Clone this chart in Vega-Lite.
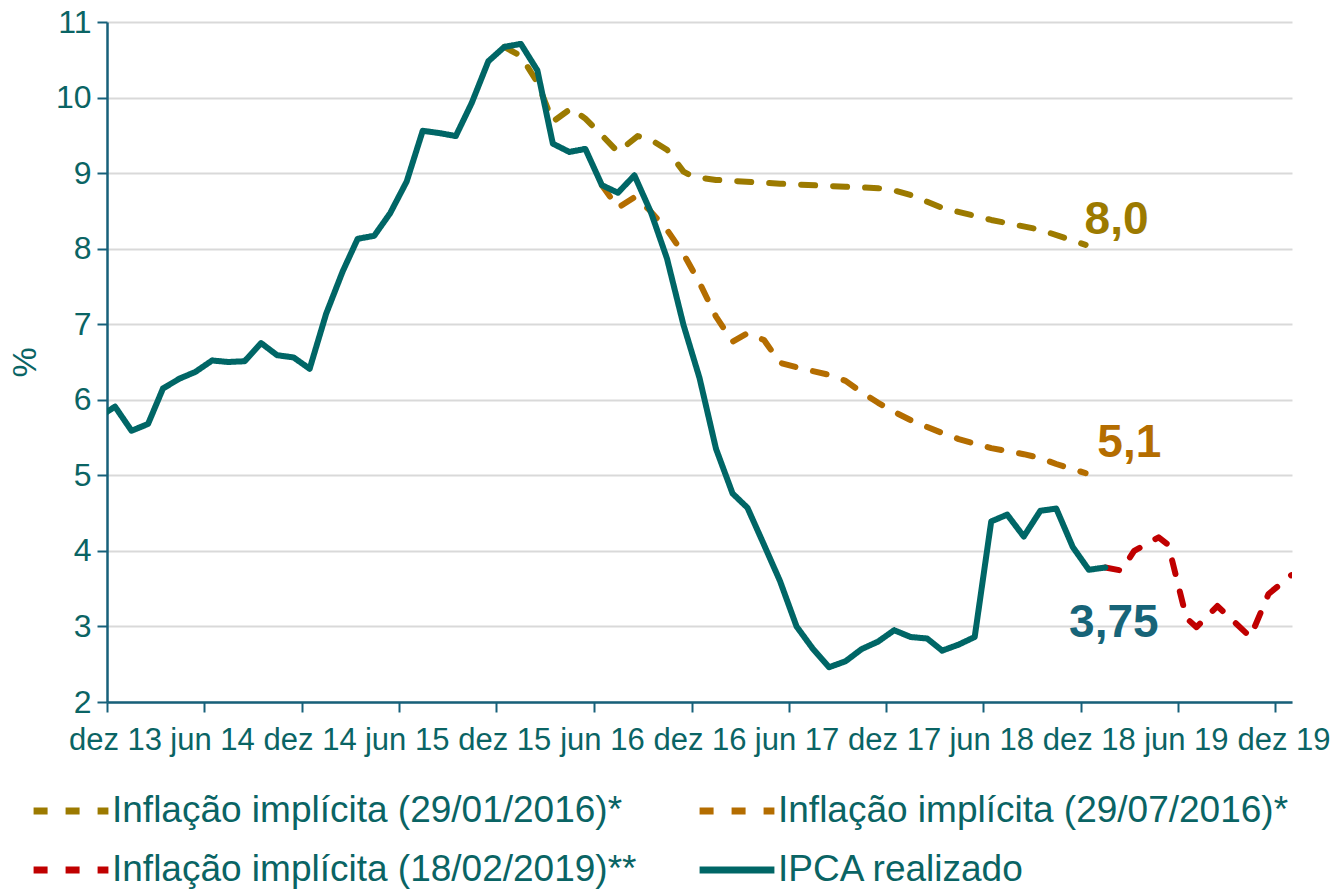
{
  "$schema": "https://vega.github.io/schema/vega-lite/v6.json",
  "width": 1185,
  "height": 680,
  "autosize": {"type": "none"},
  "padding": {"left": 107, "top": 22, "right": 40, "bottom": 188},
  "background": "white",
  "config": {
    "view": {"stroke": null},
    "font": "Liberation Sans",
    "legend": {
      "orient": "none",
      "legendX": -77,
      "legendY": 748,
      "columns": 2,
      "padding": 0,
      "symbolType": "stroke",
      "symbolSize": 5600,
      "symbolStrokeWidth": 7,
      "labelFontSize": 37,
      "labelFont": "Liberation Sans",
      "labelColor": "#0A6464",
      "labelLimit": 2000,
      "labelOffset": 0,
      "columnPadding": 48,
      "rowPadding": -23
    }
  },
  "datasets": {
    "ipca": [
      {"date": "2013-11-16", "value": 5.77, "serie": "IPCA realizado"},
      {"date": "2013-12-16", "value": 5.91, "serie": "IPCA realizado"},
      {"date": "2014-01-16", "value": 5.59, "serie": "IPCA realizado"},
      {"date": "2014-02-16", "value": 5.68, "serie": "IPCA realizado"},
      {"date": "2014-03-16", "value": 6.15, "serie": "IPCA realizado"},
      {"date": "2014-04-16", "value": 6.28, "serie": "IPCA realizado"},
      {"date": "2014-05-16", "value": 6.37, "serie": "IPCA realizado"},
      {"date": "2014-06-16", "value": 6.52, "serie": "IPCA realizado"},
      {"date": "2014-07-16", "value": 6.50, "serie": "IPCA realizado"},
      {"date": "2014-08-16", "value": 6.51, "serie": "IPCA realizado"},
      {"date": "2014-09-16", "value": 6.75, "serie": "IPCA realizado"},
      {"date": "2014-10-16", "value": 6.59, "serie": "IPCA realizado"},
      {"date": "2014-11-16", "value": 6.56, "serie": "IPCA realizado"},
      {"date": "2014-12-16", "value": 6.41, "serie": "IPCA realizado"},
      {"date": "2015-01-16", "value": 7.14, "serie": "IPCA realizado"},
      {"date": "2015-02-16", "value": 7.70, "serie": "IPCA realizado"},
      {"date": "2015-03-16", "value": 8.13, "serie": "IPCA realizado"},
      {"date": "2015-04-16", "value": 8.17, "serie": "IPCA realizado"},
      {"date": "2015-05-16", "value": 8.47, "serie": "IPCA realizado"},
      {"date": "2015-06-16", "value": 8.89, "serie": "IPCA realizado"},
      {"date": "2015-07-16", "value": 9.56, "serie": "IPCA realizado"},
      {"date": "2015-08-16", "value": 9.53, "serie": "IPCA realizado"},
      {"date": "2015-09-16", "value": 9.49, "serie": "IPCA realizado"},
      {"date": "2015-10-16", "value": 9.93, "serie": "IPCA realizado"},
      {"date": "2015-11-16", "value": 10.48, "serie": "IPCA realizado"},
      {"date": "2015-12-16", "value": 10.67, "serie": "IPCA realizado"},
      {"date": "2016-01-16", "value": 10.71, "serie": "IPCA realizado"},
      {"date": "2016-02-16", "value": 10.36, "serie": "IPCA realizado"},
      {"date": "2016-03-16", "value": 9.39, "serie": "IPCA realizado"},
      {"date": "2016-04-16", "value": 9.28, "serie": "IPCA realizado"},
      {"date": "2016-05-16", "value": 9.32, "serie": "IPCA realizado"},
      {"date": "2016-06-16", "value": 8.84, "serie": "IPCA realizado"},
      {"date": "2016-07-16", "value": 8.74, "serie": "IPCA realizado"},
      {"date": "2016-08-16", "value": 8.97, "serie": "IPCA realizado"},
      {"date": "2016-09-16", "value": 8.48, "serie": "IPCA realizado"},
      {"date": "2016-10-16", "value": 7.87, "serie": "IPCA realizado"},
      {"date": "2016-11-16", "value": 6.99, "serie": "IPCA realizado"},
      {"date": "2016-12-16", "value": 6.29, "serie": "IPCA realizado"},
      {"date": "2017-01-16", "value": 5.35, "serie": "IPCA realizado"},
      {"date": "2017-02-16", "value": 4.76, "serie": "IPCA realizado"},
      {"date": "2017-03-16", "value": 4.57, "serie": "IPCA realizado"},
      {"date": "2017-04-16", "value": 4.08, "serie": "IPCA realizado"},
      {"date": "2017-05-16", "value": 3.60, "serie": "IPCA realizado"},
      {"date": "2017-06-16", "value": 3.00, "serie": "IPCA realizado"},
      {"date": "2017-07-16", "value": 2.71, "serie": "IPCA realizado"},
      {"date": "2017-08-16", "value": 2.46, "serie": "IPCA realizado"},
      {"date": "2017-09-16", "value": 2.54, "serie": "IPCA realizado"},
      {"date": "2017-10-16", "value": 2.70, "serie": "IPCA realizado"},
      {"date": "2017-11-16", "value": 2.80, "serie": "IPCA realizado"},
      {"date": "2017-12-16", "value": 2.95, "serie": "IPCA realizado"},
      {"date": "2018-01-16", "value": 2.86, "serie": "IPCA realizado"},
      {"date": "2018-02-16", "value": 2.84, "serie": "IPCA realizado"},
      {"date": "2018-03-16", "value": 2.68, "serie": "IPCA realizado"},
      {"date": "2018-04-16", "value": 2.76, "serie": "IPCA realizado"},
      {"date": "2018-05-16", "value": 2.86, "serie": "IPCA realizado"},
      {"date": "2018-06-16", "value": 4.39, "serie": "IPCA realizado"},
      {"date": "2018-07-16", "value": 4.48, "serie": "IPCA realizado"},
      {"date": "2018-08-16", "value": 4.19, "serie": "IPCA realizado"},
      {"date": "2018-09-16", "value": 4.53, "serie": "IPCA realizado"},
      {"date": "2018-10-16", "value": 4.56, "serie": "IPCA realizado"},
      {"date": "2018-11-16", "value": 4.05, "serie": "IPCA realizado"},
      {"date": "2018-12-16", "value": 3.75, "serie": "IPCA realizado"},
      {"date": "2019-01-16", "value": 3.78, "serie": "IPCA realizado"}
    ],
    "proj": [
      {"date": "2015-12-16", "value": 10.67, "serie": "Inflação implícita (29/01/2016)*"},
      {"date": "2016-01-16", "value": 10.55, "serie": "Inflação implícita (29/01/2016)*"},
      {"date": "2016-02-16", "value": 10.2, "serie": "Inflação implícita (29/01/2016)*"},
      {"date": "2016-03-16", "value": 9.68, "serie": "Inflação implícita (29/01/2016)*"},
      {"date": "2016-04-20", "value": 9.86, "serie": "Inflação implícita (29/01/2016)*"},
      {"date": "2016-05-16", "value": 9.72, "serie": "Inflação implícita (29/01/2016)*"},
      {"date": "2016-06-16", "value": 9.5, "serie": "Inflação implícita (29/01/2016)*"},
      {"date": "2016-07-16", "value": 9.28, "serie": "Inflação implícita (29/01/2016)*"},
      {"date": "2016-08-22", "value": 9.49, "serie": "Inflação implícita (29/01/2016)*"},
      {"date": "2016-09-16", "value": 9.44, "serie": "Inflação implícita (29/01/2016)*"},
      {"date": "2016-10-16", "value": 9.31, "serie": "Inflação implícita (29/01/2016)*"},
      {"date": "2016-11-16", "value": 9.02, "serie": "Inflação implícita (29/01/2016)*"},
      {"date": "2016-12-05", "value": 8.95, "serie": "Inflação implícita (29/01/2016)*"},
      {"date": "2017-01-16", "value": 8.91, "serie": "Inflação implícita (29/01/2016)*"},
      {"date": "2017-05-16", "value": 8.86, "serie": "Inflação implícita (29/01/2016)*"},
      {"date": "2017-09-16", "value": 8.82, "serie": "Inflação implícita (29/01/2016)*"},
      {"date": "2017-11-16", "value": 8.80, "serie": "Inflação implícita (29/01/2016)*"},
      {"date": "2017-12-16", "value": 8.77, "serie": "Inflação implícita (29/01/2016)*"},
      {"date": "2018-01-16", "value": 8.71, "serie": "Inflação implícita (29/01/2016)*"},
      {"date": "2018-02-16", "value": 8.62, "serie": "Inflação implícita (29/01/2016)*"},
      {"date": "2018-03-16", "value": 8.54, "serie": "Inflação implícita (29/01/2016)*"},
      {"date": "2018-06-16", "value": 8.38, "serie": "Inflação implícita (29/01/2016)*"},
      {"date": "2018-09-16", "value": 8.25, "serie": "Inflação implícita (29/01/2016)*"},
      {"date": "2018-12-10", "value": 8.05, "serie": "Inflação implícita (29/01/2016)*"},
      {"date": "2016-06-16", "value": 8.84, "serie": "Inflação implícita (29/07/2016)*"},
      {"date": "2016-07-16", "value": 8.54, "serie": "Inflação implícita (29/07/2016)*"},
      {"date": "2016-08-16", "value": 8.68, "serie": "Inflação implícita (29/07/2016)*"},
      {"date": "2016-09-12", "value": 8.52, "serie": "Inflação implícita (29/07/2016)*"},
      {"date": "2016-10-16", "value": 8.25, "serie": "Inflação implícita (29/07/2016)*"},
      {"date": "2016-11-16", "value": 7.93, "serie": "Inflação implícita (29/07/2016)*"},
      {"date": "2016-12-16", "value": 7.55, "serie": "Inflação implícita (29/07/2016)*"},
      {"date": "2017-01-16", "value": 7.1, "serie": "Inflação implícita (29/07/2016)*"},
      {"date": "2017-02-16", "value": 6.77, "serie": "Inflação implícita (29/07/2016)*"},
      {"date": "2017-03-16", "value": 6.88, "serie": "Inflação implícita (29/07/2016)*"},
      {"date": "2017-04-16", "value": 6.79, "serie": "Inflação implícita (29/07/2016)*"},
      {"date": "2017-05-16", "value": 6.49, "serie": "Inflação implícita (29/07/2016)*"},
      {"date": "2017-06-16", "value": 6.43, "serie": "Inflação implícita (29/07/2016)*"},
      {"date": "2017-07-16", "value": 6.38, "serie": "Inflação implícita (29/07/2016)*"},
      {"date": "2017-08-16", "value": 6.33, "serie": "Inflação implícita (29/07/2016)*"},
      {"date": "2017-09-16", "value": 6.25, "serie": "Inflação implícita (29/07/2016)*"},
      {"date": "2017-10-16", "value": 6.1, "serie": "Inflação implícita (29/07/2016)*"},
      {"date": "2017-11-16", "value": 5.96, "serie": "Inflação implícita (29/07/2016)*"},
      {"date": "2017-12-16", "value": 5.84, "serie": "Inflação implícita (29/07/2016)*"},
      {"date": "2018-01-16", "value": 5.73, "serie": "Inflação implícita (29/07/2016)*"},
      {"date": "2018-02-16", "value": 5.64, "serie": "Inflação implícita (29/07/2016)*"},
      {"date": "2018-03-16", "value": 5.56, "serie": "Inflação implícita (29/07/2016)*"},
      {"date": "2018-04-16", "value": 5.48, "serie": "Inflação implícita (29/07/2016)*"},
      {"date": "2018-05-16", "value": 5.42, "serie": "Inflação implícita (29/07/2016)*"},
      {"date": "2018-06-16", "value": 5.36, "serie": "Inflação implícita (29/07/2016)*"},
      {"date": "2018-07-16", "value": 5.32, "serie": "Inflação implícita (29/07/2016)*"},
      {"date": "2018-08-16", "value": 5.28, "serie": "Inflação implícita (29/07/2016)*"},
      {"date": "2018-09-16", "value": 5.23, "serie": "Inflação implícita (29/07/2016)*"},
      {"date": "2018-10-16", "value": 5.15, "serie": "Inflação implícita (29/07/2016)*"},
      {"date": "2018-11-16", "value": 5.08, "serie": "Inflação implícita (29/07/2016)*"},
      {"date": "2018-12-10", "value": 5.03, "serie": "Inflação implícita (29/07/2016)*"},
      {"date": "2019-01-16", "value": 3.78, "serie": "Inflação implícita (18/02/2019)**"},
      {"date": "2019-02-15", "value": 3.74, "serie": "Inflação implícita (18/02/2019)**"},
      {"date": "2019-03-11", "value": 4.0, "serie": "Inflação implícita (18/02/2019)**"},
      {"date": "2019-04-26", "value": 4.18, "serie": "Inflação implícita (18/02/2019)**"},
      {"date": "2019-05-14", "value": 4.08, "serie": "Inflação implícita (18/02/2019)**"},
      {"date": "2019-06-17", "value": 3.11, "serie": "Inflação implícita (18/02/2019)**"},
      {"date": "2019-07-06", "value": 2.99, "serie": "Inflação implícita (18/02/2019)**"},
      {"date": "2019-08-14", "value": 3.27, "serie": "Inflação implícita (18/02/2019)**"},
      {"date": "2019-10-15", "value": 2.86, "serie": "Inflação implícita (18/02/2019)**"},
      {"date": "2019-11-18", "value": 3.43, "serie": "Inflação implícita (18/02/2019)**"},
      {"date": "2019-12-31", "value": 3.68, "serie": "Inflação implícita (18/02/2019)**"}
    ]
  },
  "encoding": {
    "x": {
      "field": "date",
      "type": "temporal",
      "scale": {
        "type": "utc",
        "domain": [
          {"year": 2013, "month": 12, "date": 1, "utc": true},
          {"year": 2020, "month": 1, "date": 1, "utc": true}
        ]
      },
      "axis": {
        "values": [
          {"year": 2013, "month": 12, "date": 1, "utc": true},
          {"year": 2014, "month": 6, "date": 1, "utc": true},
          {"year": 2014, "month": 12, "date": 1, "utc": true},
          {"year": 2015, "month": 6, "date": 1, "utc": true},
          {"year": 2015, "month": 12, "date": 1, "utc": true},
          {"year": 2016, "month": 6, "date": 1, "utc": true},
          {"year": 2016, "month": 12, "date": 1, "utc": true},
          {"year": 2017, "month": 6, "date": 1, "utc": true},
          {"year": 2017, "month": 12, "date": 1, "utc": true},
          {"year": 2018, "month": 6, "date": 1, "utc": true},
          {"year": 2018, "month": 12, "date": 1, "utc": true},
          {"year": 2019, "month": 6, "date": 1, "utc": true},
          {"year": 2019, "month": 12, "date": 1, "utc": true}
        ],
        "labelExpr": "(utcFormat(datum.value, '%m') == '12' ? 'dez ' : 'jun ') + utcFormat(datum.value, '%y')",
        "title": null,
        "grid": false,
        "domainColor": "#17607A",
        "domainWidth": 2.5,
        "tickColor": "#17607A",
        "tickWidth": 2,
        "tickSize": 10,
        "labelFont": "Liberation Sans",
        "labelFontSize": 31,
        "labelColor": "#0A6464",
        "labelOffset": 8,
        "labelPadding": 13,
        "labelOverlap": false,
        "labelBound": false,
        "labelFlush": false
      }
    },
    "y": {
      "field": "value",
      "type": "quantitative",
      "scale": {"domain": [2, 11], "nice": false, "zero": false},
      "axis": {
        "values": [2, 3, 4, 5, 6, 7, 8, 9, 10, 11],
        "title": "%",
        "titleFont": "Liberation Sans",
        "titleFontSize": 34,
        "titleFontWeight": "normal",
        "titleColor": "#0A6464",
        "titleAngle": -90,
        "titleAlign": "center",
        "titleBaseline": "middle",
        "titleX": -82,
        "titleY": 340,
        "grid": true,
        "gridColor": "#D9D9D9",
        "gridWidth": 2,
        "domainColor": "#17607A",
        "domainWidth": 2.5,
        "tickColor": "#17607A",
        "tickWidth": 2,
        "tickSize": 10,
        "labelFont": "Liberation Sans",
        "labelFontSize": 32,
        "labelColor": "#0A6464",
        "labelPadding": 6
      }
    }
  },
  "layer": [
    {
      "data": {"name": "proj"},
      "mark": {"type": "line", "strokeWidth": 6, "strokeCap": "round", "strokeJoin": "round", "clip": true},
      "encoding": {
        "color": {
          "field": "serie",
          "type": "nominal",
          "scale": {
            "domain": ["Inflação implícita (29/01/2016)*", "Inflação implícita (18/02/2019)**", "Inflação implícita (29/07/2016)*", "IPCA realizado"],
            "range": ["#9C7A00", "#C00000", "#B46D00", "#006666"]
          },
          "legend": {"title": null, "orient": "none", "legendX": -77, "legendY": 748, "columns": 2}
        },
        "strokeDash": {
          "field": "serie",
          "type": "nominal",
          "scale": {
            "domain": ["Inflação implícita (29/01/2016)*", "Inflação implícita (18/02/2019)**", "Inflação implícita (29/07/2016)*", "IPCA realizado"],
            "range": [[14, 18], [14, 18], [14, 18], [1, 0]]
          },
          "legend": {"title": null, "orient": "none", "legendX": -77, "legendY": 748, "columns": 2}
        }
      }
    },
    {
      "data": {"name": "ipca"},
      "mark": {"type": "line", "strokeWidth": 6, "strokeCap": "round", "strokeJoin": "round", "clip": true},
      "encoding": {
        "color": {"field": "serie", "type": "nominal"},
        "strokeDash": {"field": "serie", "type": "nominal"}
      }
    },
    {
      "data": {"values": [{"date": "2019-02-06", "value": 8.38, "label": "8,0"}]},
      "mark": {"type": "text", "font": "Liberation Sans", "fontSize": 46, "fontWeight": "bold", "color": "#9C7A00", "align": "center", "baseline": "middle"},
      "encoding": {"text": {"field": "label"}}
    },
    {
      "data": {"values": [{"date": "2019-03-02", "value": 5.43, "label": "5,1"}]},
      "mark": {"type": "text", "font": "Liberation Sans", "fontSize": 46, "fontWeight": "bold", "color": "#B46D00", "align": "center", "baseline": "middle"},
      "encoding": {"text": {"field": "label"}}
    },
    {
      "data": {"values": [{"date": "2019-02-01", "value": 3.05, "label": "3,75"}]},
      "mark": {"type": "text", "font": "Liberation Sans", "fontSize": 46, "fontWeight": "bold", "color": "#176478", "align": "center", "baseline": "middle"},
      "encoding": {"text": {"field": "label"}}
    }
  ]
}
